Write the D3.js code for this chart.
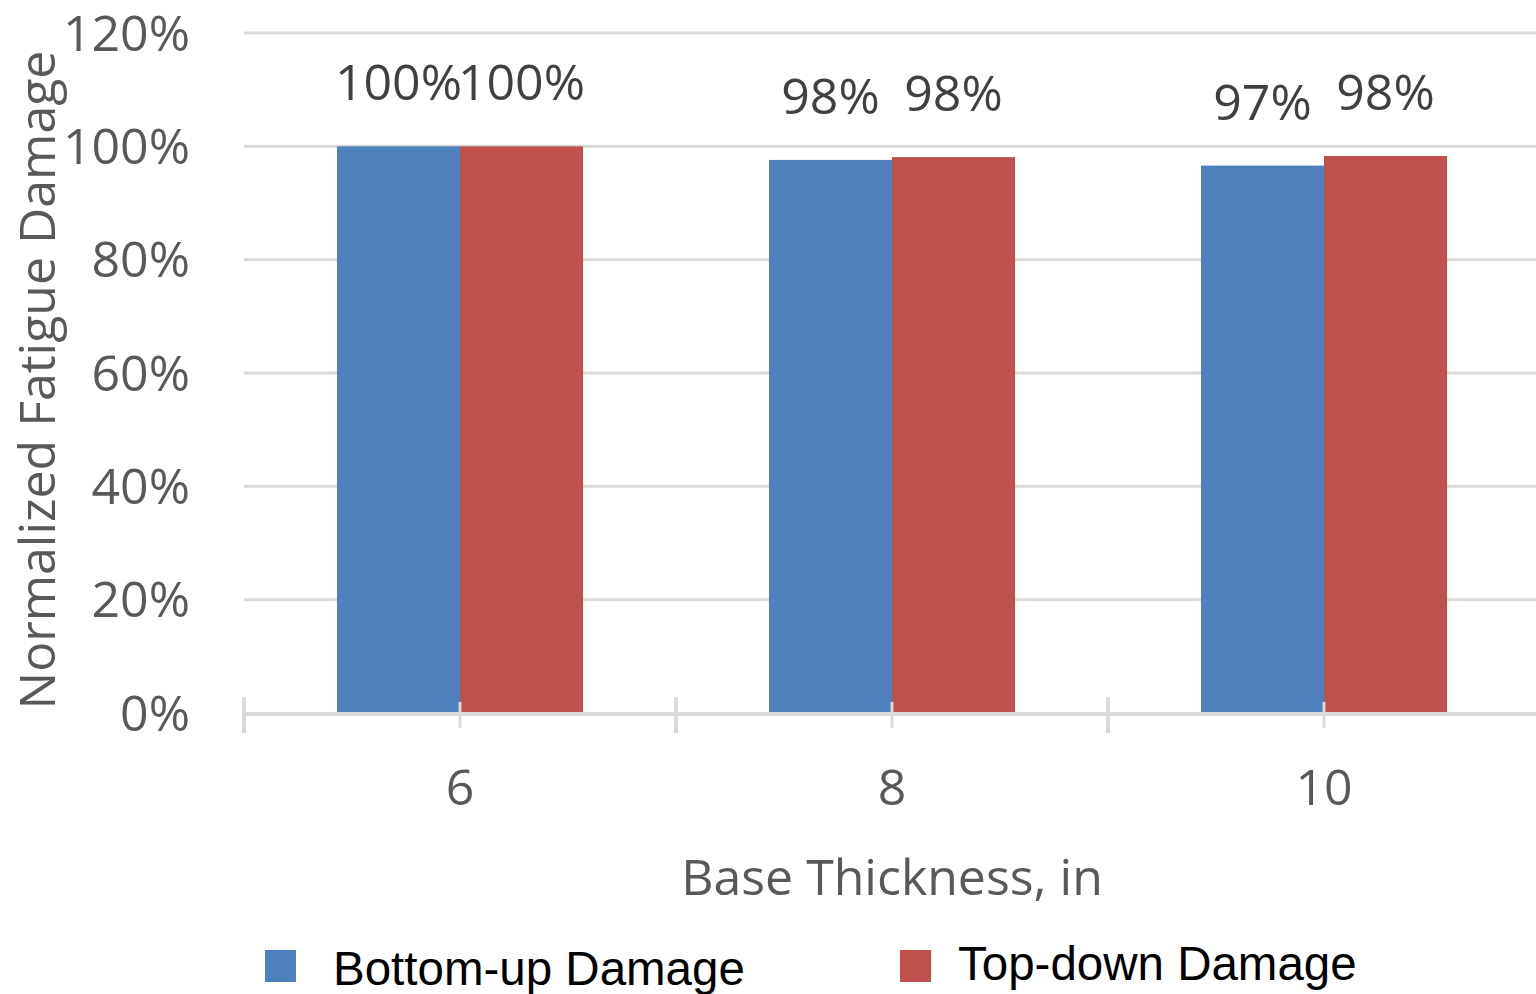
<!DOCTYPE html>
<html>
<head>
<meta charset="utf-8">
<script src="https://cdn.jsdelivr.net/npm/d3@7"></script>
<style>
  html, body { margin: 0; padding: 0; background: #fff; }
  svg { display: block; }
</style>
</head>
<body>
<svg id="chart" width="1536" height="994"></svg>
<script>
const categories = ["6", "8", "10"];
const seriesNames = ["Bottom-up Damage", "Top-down Damage"];
const bottomUp = [1.00, 0.976, 0.966];
const topDown = [1.00, 0.981, 0.983];
const yTicks = [0, 0.2, 0.4, 0.6, 0.8, 1.0, 1.2];
const colors = ["#4F81BD", "#C0504D"];

const svg = d3.select("#chart");
const W = 1536, H = 994;
const plot = { left: 244, right: 1540, top: 33, bottom: 713 };
const tickFont = "'Open Sans', 'DejaVu Sans', sans-serif";
const gray = "#595959";
const fs = 50;

const y = d3.scaleLinear().domain([0, 1.2]).range([plot.bottom, plot.top]);
const x0 = d3.scaleBand().domain(categories).range([plot.left, plot.right]).padding(0);
const x1 = d3.scaleBand().domain(seriesNames).range([0, x0.bandwidth()]).paddingInner(0).paddingOuter(0.756);

const data = categories.map((c, i) => ({ cat: c, values: [bottomUp[i], topDown[i]] }));

// gridlines
svg.append("g").selectAll("line").data(yTicks.filter(t => t > 0)).join("line")
  .attr("x1", plot.left).attr("x2", W)
  .attr("y1", d => y(d)).attr("y2", d => y(d))
  .attr("stroke", "#d9d9d9").attr("stroke-width", 3);

// y tick labels
const fmt = d3.format(".0%");
svg.append("g").selectAll("text").data(yTicks).join("text")
  .attr("x", 190).attr("y", d => y(d)).attr("dy", "0.35em")
  .attr("text-anchor", "end")
  .attr("font-family", tickFont).attr("font-size", fs).attr("fill", gray)
  .text(d => fmt(d));

// bars
const groups = svg.append("g").selectAll("g").data(data).join("g")
  .attr("transform", d => `translate(${x0(d.cat)},0)`);
groups.selectAll("rect").data(d => d.values.map((v, j) => ({ s: seriesNames[j], v, j }))).join("rect")
  .attr("x", d => x1(d.s)).attr("width", x1.bandwidth())
  .attr("y", d => y(d.v)).attr("height", d => y(0) - y(d.v))
  .attr("fill", d => colors[d.j]);

// data labels
groups.selectAll("text").data(d => d.values.map((v, j) => ({ s: seriesNames[j], v, j }))).join("text")
  .attr("x", d => x1(d.s) + x1.bandwidth() / 2).attr("y", d => y(d.v) - 46)
  .attr("text-anchor", "middle")
  .attr("font-family", tickFont).attr("font-size", fs).attr("fill", "#404040")
  .text(d => fmt(d.v));

// x axis line
svg.append("line").attr("x1", plot.left).attr("x2", W)
  .attr("y1", y(0) + 1).attr("y2", y(0) + 1)
  .attr("stroke", "#d9d9d9").attr("stroke-width", 4);

// boundary ticks
const boundaries = categories.map(c => x0(c));
svg.append("g").selectAll("line").data(boundaries).join("line")
  .attr("x1", d => d).attr("x2", d => d)
  .attr("y1", 697).attr("y2", 733)
  .attr("stroke", "#d9d9d9").attr("stroke-width", 4);
// center ticks
svg.append("g").selectAll("line").data(categories).join("line")
  .attr("x1", d => x0(d) + x0.bandwidth() / 2).attr("x2", d => x0(d) + x0.bandwidth() / 2)
  .attr("y1", 702).attr("y2", 728)
  .attr("stroke", "#d9d9d9").attr("stroke-width", 3);

// x tick labels
svg.append("g").selectAll("text").data(categories).join("text")
  .attr("x", d => x0(d) + x0.bandwidth() / 2).attr("y", 805)
  .attr("text-anchor", "middle")
  .attr("font-family", tickFont).attr("font-size", fs).attr("fill", gray)
  .text(d => d);

// x axis title
svg.append("text").attr("x", (plot.left + plot.right) / 2).attr("y", 895)
  .attr("text-anchor", "middle")
  .attr("font-family", tickFont).attr("font-size", fs).attr("fill", gray)
  .text("Base Thickness, in");

// y axis title
svg.append("text").attr("transform", "translate(55,380) rotate(-90)")
  .attr("text-anchor", "middle")
  .attr("font-family", tickFont).attr("font-size", fs).attr("fill", gray)
  .text("Normalized Fatigue Damage");

// legend
const legendX = [265, 900];
const leg = svg.append("g").selectAll("g").data(seriesNames).join("g")
  .attr("transform", (d, i) => `translate(${legendX[i]},950)`);
leg.append("rect").attr("width", 31).attr("height", 32).attr("fill", (d, i) => colors[i]);
leg.append("text").attr("x", (d, i) => i === 0 ? 68 : 58).attr("y", (d, i) => i === 0 ? 35 : 30)
  .attr("font-family", "'Liberation Sans', Arial, sans-serif").attr("font-size", 47.5).attr("fill", "#000")
  .text(d => d);
</script>
</body>
</html>
